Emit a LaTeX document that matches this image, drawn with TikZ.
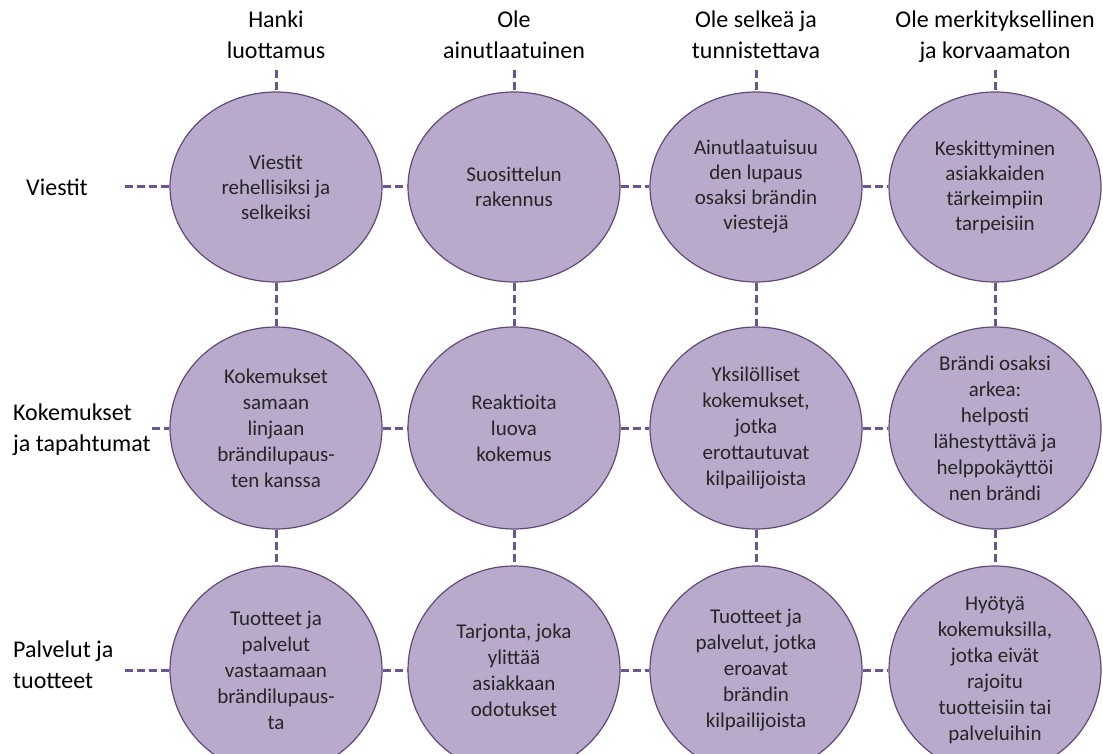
\documentclass[tikz,border=0pt]{standalone}
\usepackage{fontspec}
\setmainfont{Carlito}
\usetikzlibrary{shapes.geometric}
\definecolor{bubfill}{HTML}{B9A9CB}
\definecolor{bubdraw}{HTML}{604A7B}
\definecolor{dashc}{HTML}{6A5590}
\definecolor{txtc}{HTML}{262626}
\begin{document}
\begin{tikzpicture}[x=1pt,y=-1pt,
  bub/.style={ellipse, draw=bubdraw, line width=1.2pt, fill=bubfill, minimum width=212pt, inner sep=0pt},
  btxt/.style={align=center, inner sep=0pt, text=txtc, font=\fontsize{21}{26}\selectfont},
  btxtA/.style={btxt, font=\fontsize{21}{25}\selectfont},
  hdr/.style={align=center, inner sep=0pt, anchor=north, font=\fontsize{24}{31}\selectfont},
  lab/.style={align=left, inner sep=0pt, anchor=west, font=\fontsize{24}{31}\selectfont},
  conn/.style={draw=dashc, line width=3pt, dash pattern=on 8pt off 4pt}]
\path[use as bounding box] (0,0) rectangle (1103,754);
\clip (0,0) rectangle (1103,754);
\fill[white] (0,0) rectangle (1103,754);

% headers
\node[hdr] (hd1) at (276,11) {Hanki\\luottamus};
\node[hdr] (hd2) at (514,11) {Ole\\ainutlaatuinen};
\node[hdr] (hd3) at (756,11) {Ole selkeä ja\\tunnistettava};
\node[hdr] (hd4) at (995,11) {Ole merkityksellinen\\ja korvaamaton};

% row labels
\node[lab] (lb1) at (26,187) {Viestit};
\node[lab] (lb2) at (13,430) {Kokemukset\\ja tapahtumat};
\node[lab] (lb3) at (13,665) {Palvelut ja\\tuotteet};

% row 1
\node[bub, minimum height=190pt] (c11) at (276,187) {};
\node[bub, minimum height=190pt] (c12) at (514,187) {};
\node[bub, minimum height=190pt] (c13) at (756,187) {};
\node[bub, minimum height=190pt] (c14) at (995,187) {};
% row 2
\node[bub, minimum height=202pt] (c21) at (276,428) {};
\node[bub, minimum height=202pt] (c22) at (514,428) {};
\node[bub, minimum height=202pt] (c23) at (756,428) {};
\node[bub, minimum height=202pt] (c24) at (995,428) {};
% row 3
\node[bub, minimum height=208pt] (c31) at (276,670) {};
\node[bub, minimum height=208pt] (c32) at (514,670) {};
\node[bub, minimum height=208pt] (c33) at (756,670) {};
\node[bub, minimum height=208pt] (c34) at (995,670) {};

% texts
\node[btxtA] (t11) at (c11) {Viestit\\rehellisiksi ja\\selkeiksi};
\node[btxtA] (t12) at (c12) {Suosittelun\\rakennus};
\node[btxtA] (t13) at (c13) {Ainutlaatuisuu\\den lupaus\\osaksi brändin\\viestejä};
\node[btxtA] (t14) at (c14) {Keskittyminen\\asiakkaiden\\tärkeimpiin\\tarpeisiin};
\node[btxt] (t21) at (c21) {Kokemukset\\samaan\\linjaan\\brändilupaus-\\ten kanssa};
\node[btxt] (t22) at (c22) {Reaktioita\\luova\\kokemus};
\node[btxt] (t23) at (c23) {Yksilölliset\\kokemukset,\\jotka\\erottautuvat\\kilpailijoista};
\node[btxt] (t24) at (c24) {Brändi osaksi\\arkea:\\helposti\\lähestyttävä ja\\helppokäyttöi\\nen brändi};
\node[btxt] (t31) at (c31) {Tuotteet ja\\palvelut\\vastaamaan\\brändilupaus-\\ta};
\node[btxt] (t32) at (c32) {Tarjonta, joka\\ylittää\\asiakkaan\\odotukset};
\node[btxt] (t33) at (c33) {Tuotteet ja\\palvelut, jotka\\eroavat\\brändin\\kilpailijoista};
\node[btxt] (t34) at (c34) {Hyötyä\\kokemuksilla,\\jotka eivät\\rajoitu\\tuotteisiin tai\\palveluihin};

% free ends
\coordinate (h1) at (276,70);
\coordinate (h2) at (514,70);
\coordinate (h3) at (756,70);
\coordinate (h4) at (995,70);
\coordinate (l1) at (125,187);
\coordinate (l2) at (152,428);
\coordinate (l3) at (125,670);

% connectors
\draw[conn] (h1) -- (c11.north);
\draw[conn] (h2) -- (c12.north);
\draw[conn] (h3) -- (c13.north);
\draw[conn] (h4) -- (c14.north);
\draw[conn] (l1) -- (c11.west);
\draw[conn] (l2) -- (c21.west);
\draw[conn] (l3) -- (c31.west);
\foreach \r in {1,2,3}{
  \draw[conn] (c\r1.east) -- (c\r2.west);
  \draw[conn] (c\r2.east) -- (c\r3.west);
  \draw[conn] (c\r3.east) -- (c\r4.west);
}
\foreach \c in {1,2,3,4}{
  \draw[conn] (c1\c.south) -- (c2\c.north);
  \draw[conn] (c2\c.south) -- (c3\c.north);
}
\end{tikzpicture}
\end{document}
